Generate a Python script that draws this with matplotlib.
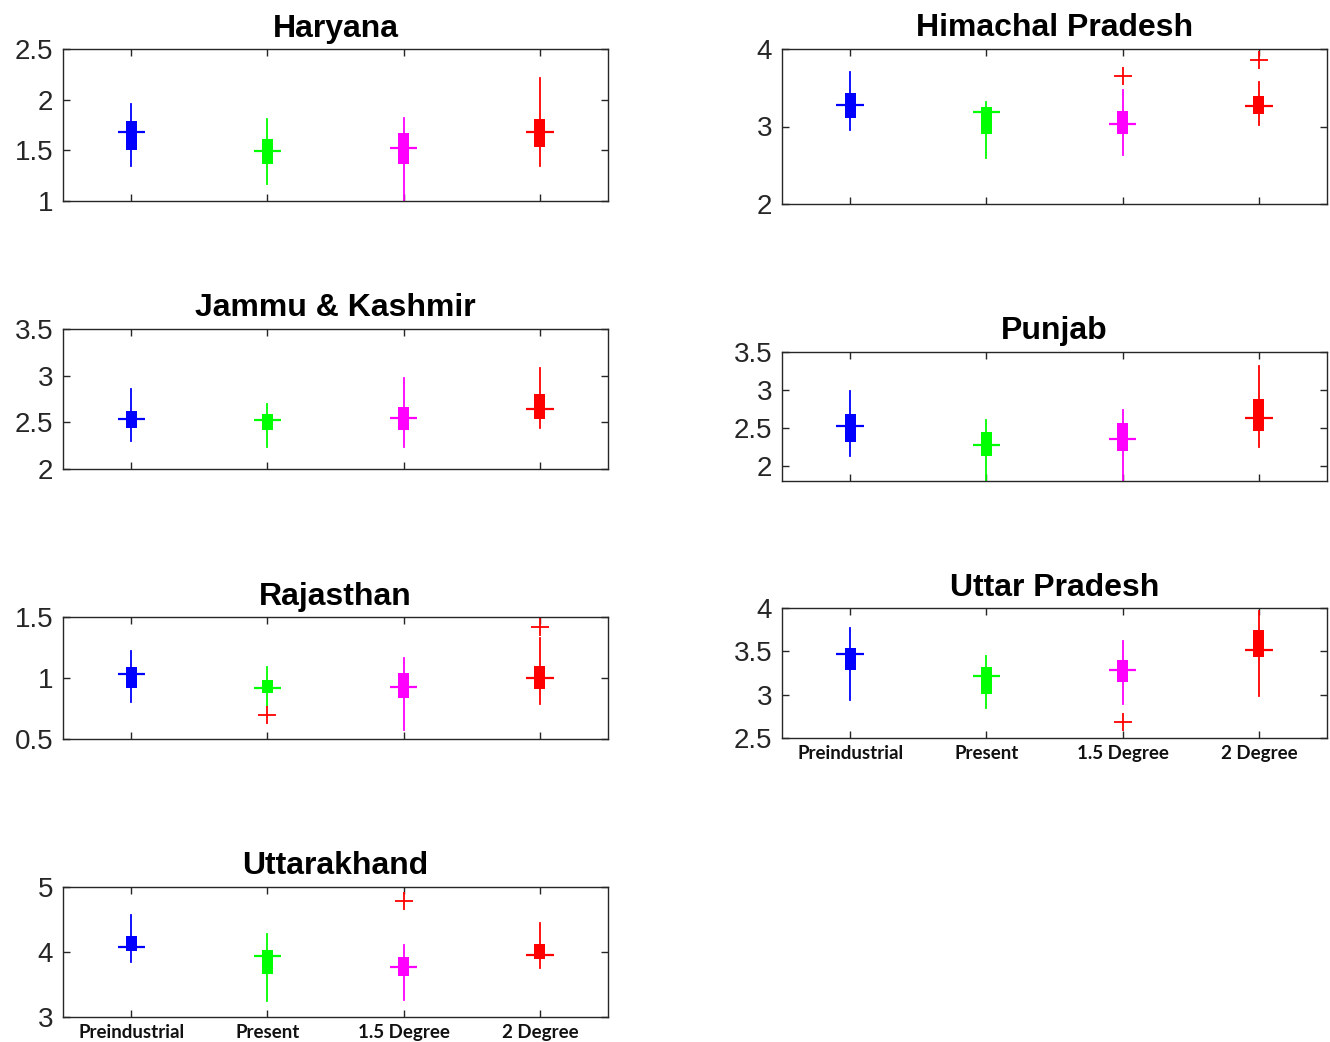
import numpy as np
import matplotlib
matplotlib.use('Agg')
import matplotlib.pyplot as plt

plt.rcParams['font.family'] = ['Liberation Sans', 'DejaVu Sans']

scenarios = ['Preindustrial', 'Present', '1.5 Degree', '2 Degree']
colors = ['#0000ff', '#00ff00', '#ff00ff', '#ff0000']

# per state: whisker low, q1, median, q3, whisker high, outliers (one list per scenario)
haryana_lo = [1.35, 1.17, 0.98, 1.35]
haryana_q1 = [1.50, 1.37, 1.37, 1.53]
haryana_med = [1.68, 1.49, 1.52, 1.68]
haryana_q3 = [1.79, 1.61, 1.67, 1.81]
haryana_hi = [1.96, 1.81, 1.82, 2.21]
haryana_out = [[], [], [], []]

himachal_lo = [2.96, 2.60, 2.63, 3.02]
himachal_q1 = [3.11, 2.90, 2.90, 3.16]
himachal_med = [3.28, 3.19, 3.03, 3.27]
himachal_q3 = [3.43, 3.25, 3.20, 3.40]
himachal_hi = [3.70, 3.31, 3.47, 3.58]
himachal_out = [[], [], [3.65], [3.86]]

jk_lo = [2.30, 2.24, 2.24, 2.44]
jk_q1 = [2.44, 2.42, 2.42, 2.54]
jk_med = [2.54, 2.53, 2.55, 2.64]
jk_q3 = [2.62, 2.59, 2.66, 2.80]
jk_hi = [2.86, 2.70, 2.98, 3.08]
jk_out = [[], [], [], []]

punjab_lo = [2.13, 1.70, 1.70, 2.25]
punjab_q1 = [2.32, 2.13, 2.19, 2.46]
punjab_med = [2.52, 2.28, 2.36, 2.63]
punjab_q3 = [2.68, 2.44, 2.56, 2.88]
punjab_hi = [2.98, 2.61, 2.74, 3.32]
punjab_out = [[], [], [], []]

rajasthan_lo = [0.80, 0.77, 0.57, 0.79]
rajasthan_q1 = [0.92, 0.88, 0.84, 0.91]
rajasthan_med = [1.03, 0.92, 0.93, 1.00]
rajasthan_q3 = [1.09, 0.98, 1.04, 1.10]
rajasthan_hi = [1.22, 1.09, 1.16, 1.33]
rajasthan_out = [[], [0.70], [], [1.42]]

up_lo = [2.94, 2.85, 2.89, 2.99]
up_q1 = [3.28, 3.01, 3.15, 3.43]
up_med = [3.47, 3.21, 3.28, 3.52]
up_q3 = [3.54, 3.32, 3.40, 3.75]
up_hi = [3.77, 3.45, 3.62, 3.96]
up_out = [[], [], [2.69], []]

uk_lo = [3.85, 3.24, 3.26, 3.75]
uk_q1 = [4.01, 3.66, 3.63, 3.89]
uk_med = [4.08, 3.94, 3.77, 3.96]
uk_q3 = [4.25, 4.03, 3.92, 4.12]
uk_hi = [4.57, 4.28, 4.11, 4.45]
uk_out = [[], [], [4.78], []]

W, H = 1330, 1042


def place(fig, x0, x1, y0, y1):
    return fig.add_axes([x0 / W, 1 - y1 / H, (x1 - x0) / W, (y1 - y0) / H])


def draw_state(ax, title, lo, q1, med, q3, hi, out, ylim, yticks, labels=False):
    pos = np.arange(1, 5)
    for i, c in enumerate(colors):
        st = dict(med=med[i], q1=q1[i], q3=q3[i], whislo=lo[i], whishi=hi[i],
                  fliers=np.array(out[i]))
        ax.bxp([st], positions=[pos[i]], widths=0.08, patch_artist=True,
               showcaps=False, manage_ticks=False,
               boxprops=dict(facecolor=c, edgecolor=c, linewidth=0),
               whiskerprops=dict(color=c, linewidth=1.3),
               medianprops=dict(linewidth=0),
               flierprops=dict(marker='+', markeredgecolor='r', markersize=13,
                               markeredgewidth=1.3, linestyle='none'))
        ax.hlines(med[i], pos[i] - 0.1, pos[i] + 0.1, color=c, lw=1.6, zorder=4)
    ax.set_xlim(0.5, 4.5)
    ax.set_ylim(*ylim)
    ax.tick_params(direction='in', length=5, width=1, top=True, right=True,
                   colors='#262626')
    ax.tick_params(axis='y', labelsize=20, pad=7)
    ax.tick_params(axis='x', pad=5)
    ax.set_yticks(yticks)
    ax.set_yticklabels([('%g' % v) for v in yticks])
    ax.set_xticks(pos)
    if labels:
        ax.set_xticklabels(scenarios, fontfamily='Lato', fontweight='bold',
                           fontsize=13.5, color='#111111')
    else:
        ax.set_xticklabels([])
    for s in ax.spines.values():
        s.set_color('#262626')
        s.set_linewidth(1.0)
    ax.set_title(title, fontsize=23, fontweight='bold', pad=9)


fig = plt.figure(figsize=(W / 100, H / 100), dpi=100)

ax = place(fig, 63, 608, 49, 201)
draw_state(ax, 'Haryana', haryana_lo, haryana_q1, haryana_med, haryana_q3,
           haryana_hi, haryana_out, (1, 2.5), [1, 1.5, 2, 2.5])

ax = place(fig, 782, 1327, 49, 204)
draw_state(ax, 'Himachal Pradesh', himachal_lo, himachal_q1, himachal_med,
           himachal_q3, himachal_hi, himachal_out, (2, 4), [2, 3, 4])

ax = place(fig, 63, 608, 329, 469)
draw_state(ax, 'Jammu & Kashmir', jk_lo, jk_q1, jk_med, jk_q3, jk_hi, jk_out,
           (2, 3.5), [2, 2.5, 3, 3.5])

ax = place(fig, 782, 1327, 352, 481)
draw_state(ax, 'Punjab', punjab_lo, punjab_q1, punjab_med, punjab_q3, punjab_hi,
           punjab_out, (1.8, 3.5), [2, 2.5, 3, 3.5])

ax = place(fig, 63, 608, 617, 739)
draw_state(ax, 'Rajasthan', rajasthan_lo, rajasthan_q1, rajasthan_med,
           rajasthan_q3, rajasthan_hi, rajasthan_out, (0.5, 1.5), [0.5, 1, 1.5])

ax = place(fig, 782, 1327, 608, 738)
draw_state(ax, 'Uttar Pradesh', up_lo, up_q1, up_med, up_q3, up_hi, up_out,
           (2.5, 4), [2.5, 3, 3.5, 4], labels=True)

ax = place(fig, 63, 608, 887, 1017)
draw_state(ax, 'Uttarakhand', uk_lo, uk_q1, uk_med, uk_q3, uk_hi, uk_out,
           (3, 5), [3, 4, 5], labels=True)

fig.savefig('out.png', dpi=100, facecolor='white')
